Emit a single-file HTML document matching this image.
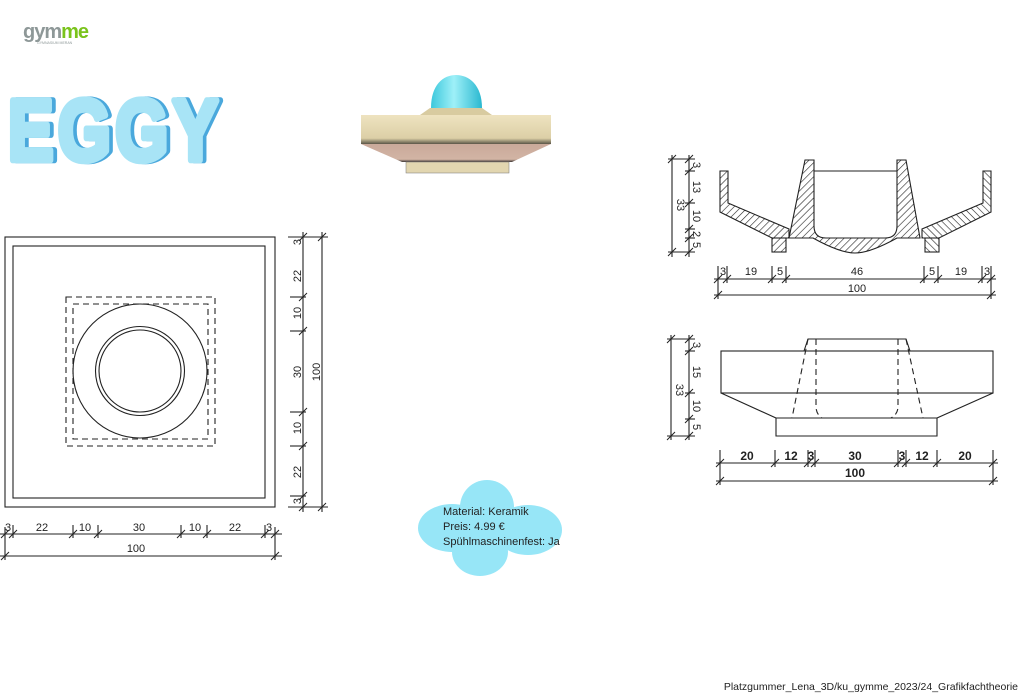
<!DOCTYPE html>
<html><head><meta charset="utf-8"><style>
html,body{margin:0;padding:0;background:#fff;}
body{width:1024px;height:694px;overflow:hidden;position:relative;font-family:"Liberation Sans",sans-serif;}
svg text{font-family:"Liberation Sans",sans-serif;}
</style></head><body>
<svg width="1024" height="694" viewBox="0 0 1024 694" xmlns="http://www.w3.org/2000/svg">
<defs>
<pattern id="h" patternUnits="userSpaceOnUse" width="5" height="5" patternTransform="rotate(45)">
<rect width="5" height="5" fill="#fff"/><line x1="0" y1="0" x2="0" y2="5" stroke="#222" stroke-width="1.2"/>
</pattern>
<linearGradient id="dome" x1="0" x2="1"><stop offset="0" stop-color="#3cc8dc"/><stop offset="0.45" stop-color="#9ef0f8"/><stop offset="1" stop-color="#2ab8d0"/></linearGradient>
<linearGradient id="tan" x1="0" y1="0" x2="0" y2="1"><stop offset="0" stop-color="#eee3c0"/><stop offset="0.8" stop-color="#dccfa6"/><stop offset="1" stop-color="#5a5648"/></linearGradient>
<linearGradient id="pink" x1="0" y1="0" x2="0" y2="1"><stop offset="0" stop-color="#c9a99a"/><stop offset="0.85" stop-color="#d2b4a4"/><stop offset="1" stop-color="#3a3432"/></linearGradient>
</defs>

<!-- logo -->
<text x="23" y="38" font-size="20" font-weight="bold" fill="#8e9898" letter-spacing="-1">gym<tspan fill="#7ac31c">me</tspan></text>
<text x="37" y="44" font-size="3.5" fill="#8e9898">GYMNASIUM MERAN</text>

<!-- EGGY -->
<g transform="translate(8,160) scale(0.74,0.94)">
<text x="5" y="0" font-size="92" font-weight="bold" fill="#4aa8dc" stroke="#4aa8dc" stroke-width="7" stroke-linejoin="round" letter-spacing="6">EGGY</text>
<text x="0" y="0" font-size="92" font-weight="bold" fill="#a8e4f6" stroke="#a8e4f6" stroke-width="7" stroke-linejoin="round" letter-spacing="6">EGGY</text>
</g>

<!-- 3D render -->
<path d="M431,108 C431,85 443,75 456,75 C469,75 482,85 482,108 Z" fill="url(#dome)"/>
<polygon points="430,108 482,108 492,115 420,115" fill="#d8cba0"/>
<rect x="361" y="115" width="190" height="29" fill="url(#tan)"/>
<polygon points="361,144 551,144 512,162 402,162" fill="url(#pink)"/>
<rect x="406" y="162" width="103" height="11" fill="#e2d6b0" stroke="#777" stroke-width="0.5"/>

<g fill="none" stroke="#222" stroke-width="1.1">
<rect x="5" y="237" width="270" height="270"/>
<rect x="13" y="246" width="252" height="252"/>
<rect x="66" y="297" width="149" height="149" stroke-dasharray="6,4"/>
<rect x="73" y="304" width="135" height="135" stroke-dasharray="6,4"/>
<circle cx="140" cy="371" r="67"/>
<circle cx="140" cy="371" r="44.5"/>
<circle cx="140" cy="371" r="41"/>
<line x1="303" y1="232" x2="303" y2="512"/>
<line x1="322" y1="232" x2="322" y2="512"/>
<line x1="288" y1="237" x2="328" y2="237"/>
<line x1="288" y1="507" x2="328" y2="507"/>
<line x1="290" y1="297" x2="306" y2="297"/><line x1="290" y1="331" x2="306" y2="331"/>
<line x1="290" y1="412" x2="306" y2="412"/><line x1="290" y1="446" x2="306" y2="446"/>
<line x1="290" y1="496" x2="306" y2="496"/>
<line x1="0" y1="534" x2="282" y2="534"/>
<line x1="0" y1="556" x2="282" y2="556"/>
<line x1="5" y1="527" x2="5" y2="560"/><line x1="275" y1="527" x2="275" y2="560"/>
<line x1="13" y1="525" x2="13" y2="538"/><line x1="73" y1="525" x2="73" y2="538"/>
<line x1="98" y1="525" x2="98" y2="538"/><line x1="181" y1="525" x2="181" y2="538"/>
<line x1="207" y1="525" x2="207" y2="538"/><line x1="265" y1="525" x2="265" y2="538"/>
</g>
<g stroke="#222" stroke-width="1">
<path d="M299,241l8,-8M299,301l8,-8M299,335l8,-8M299,416l8,-8M299,450l8,-8M299,500l8,-8M299,511l8,-8M318,241l8,-8M318,511l8,-8"/>
<path d="M1,538l8,-8M9,538l8,-8M69,538l8,-8M94,538l8,-8M177,538l8,-8M203,538l8,-8M261,538l8,-8M271,538l8,-8M1,560l8,-8M271,560l8,-8"/>
</g>
<g font-size="11" fill="#222" text-anchor="middle">
<text transform="translate(297,242) rotate(-90)" dy="4">3</text>
<text transform="translate(297,276) rotate(-90)" dy="4">22</text>
<text transform="translate(297,313) rotate(-90)" dy="4">10</text>
<text transform="translate(297,372) rotate(-90)" dy="4">30</text>
<text transform="translate(297,428) rotate(-90)" dy="4">10</text>
<text transform="translate(297,472) rotate(-90)" dy="4">22</text>
<text transform="translate(297,501) rotate(-90)" dy="4">3</text>
<text transform="translate(316,372) rotate(-90)" dy="4">100</text>
<text x="8" y="531">3</text><text x="42" y="531">22</text><text x="85" y="531">10</text>
<text x="139" y="531">30</text><text x="195" y="531">10</text><text x="235" y="531">22</text><text x="269" y="531">3</text>
<text x="136" y="552">100</text>
</g>

<!-- section view -->
<g stroke="#222" stroke-width="1.1">
<g id="half">
<polygon points="720,171 728,171 728,203 789,229 789,238 772,238 720,212" fill="url(#h)"/>
<rect x="772" y="238" width="14" height="14" fill="url(#h)"/>
</g>
<use href="#half" transform="translate(1711,0) scale(-1,1)"/>
<path d="M805,160 L814,160 L814,226 Q814,238 826,238 L885,238 Q897,238 897,226 L897,160 L906,160 L920,238 L897,238 Q870,253 855,253 Q840,253 813,238 L789,238 Z" fill="url(#h)"/>
<line x1="814" y1="171" x2="897" y2="171" fill="none"/>
</g>
<g fill="none" stroke="#222" stroke-width="1.1">
<line x1="689" y1="155" x2="689" y2="257"/>
<line x1="672" y1="155" x2="672" y2="257"/>
<line x1="668" y1="159" x2="695" y2="159"/><line x1="668" y1="252" x2="695" y2="252"/>
<line x1="685" y1="171" x2="695" y2="171"/><line x1="685" y1="203" x2="695" y2="203"/>
<line x1="685" y1="229" x2="695" y2="229"/><line x1="685" y1="238" x2="695" y2="238"/>
<line x1="714" y1="279" x2="996" y2="279"/><line x1="714" y1="295" x2="996" y2="295"/>
<line x1="718" y1="266" x2="718" y2="299"/><line x1="991" y1="266" x2="991" y2="299"/>
<line x1="727" y1="266" x2="727" y2="283"/><line x1="772" y1="266" x2="772" y2="283"/>
<line x1="786" y1="266" x2="786" y2="283"/><line x1="924" y1="266" x2="924" y2="283"/>
<line x1="938" y1="266" x2="938" y2="283"/><line x1="982" y1="266" x2="982" y2="283"/>
</g>
<g stroke="#222" stroke-width="1">
<path d="M668,163l8,-8M685,163l8,-8M685,175l8,-8M685,207l8,-8M685,233l8,-8M685,242l8,-8M685,256l8,-8M668,256l8,-8"/>
<path d="M714,283l8,-8M723,283l8,-8M768,283l8,-8M782,283l8,-8M920,283l8,-8M934,283l8,-8M978,283l8,-8M987,283l8,-8M714,299l8,-8M987,299l8,-8"/>
</g>
<g font-size="11" fill="#222" text-anchor="middle">
<text transform="translate(697,165) rotate(90)" dy="4">3</text>
<text transform="translate(697,187) rotate(90)" dy="4">13</text>
<text transform="translate(697,216) rotate(90)" dy="4">10</text>
<text transform="translate(697,234) rotate(90)" dy="4">2</text>
<text transform="translate(697,245) rotate(90)" dy="4">5</text>
<text transform="translate(681,205) rotate(90)" dy="4">33</text>
<text x="723" y="275">3</text><text x="751" y="275">19</text><text x="780" y="275">5</text>
<text x="857" y="275">46</text><text x="932" y="275">5</text><text x="961" y="275">19</text><text x="987" y="275">3</text>
<text x="857" y="292">100</text>
</g>

<!-- elevation -->
<g fill="none" stroke="#222" stroke-width="1.1">
<rect x="721" y="351" width="272" height="42"/>
<polyline points="721,393 776,418 776,436 937,436 937,418 993,393"/>
<line x1="776" y1="418" x2="937" y2="418"/>
<polyline points="804,351 808,339 906,339 910,351"/>
<g stroke-dasharray="6,4">
<line x1="808" y1="339" x2="792" y2="418"/>
<line x1="906" y1="339" x2="923" y2="418"/>
<path d="M816,339 L816,408 Q817,415 822,418"/>
<path d="M898,339 L898,408 Q897,415 891,418"/>
</g>
<line x1="689" y1="335" x2="689" y2="440"/>
<line x1="671" y1="335" x2="671" y2="440"/>
<line x1="667" y1="339" x2="695" y2="339"/><line x1="667" y1="436" x2="695" y2="436"/>
<line x1="685" y1="351" x2="695" y2="351"/><line x1="685" y1="393" x2="695" y2="393"/><line x1="685" y1="419" x2="695" y2="419"/>
<line x1="716" y1="463" x2="998" y2="463"/><line x1="716" y1="481" x2="998" y2="481"/>
<line x1="720" y1="450" x2="720" y2="485"/><line x1="993" y1="450" x2="993" y2="485"/>
<line x1="775" y1="450" x2="775" y2="467"/><line x1="808" y1="450" x2="808" y2="467"/>
<line x1="815" y1="450" x2="815" y2="467"/><line x1="898" y1="450" x2="898" y2="467"/>
<line x1="906" y1="450" x2="906" y2="467"/><line x1="937" y1="450" x2="937" y2="467"/>
</g>
<g stroke="#222" stroke-width="1">
<path d="M667,343l8,-8M685,343l8,-8M685,355l8,-8M685,397l8,-8M685,423l8,-8M685,440l8,-8M667,440l8,-8"/>
<path d="M716,467l8,-8M771,467l8,-8M804,467l8,-8M811,467l8,-8M894,467l8,-8M902,467l8,-8M933,467l8,-8M989,467l8,-8M716,485l8,-8M989,485l8,-8"/>
</g>
<g font-size="11" fill="#222" text-anchor="middle">
<text transform="translate(697,345) rotate(90)" dy="4">3</text>
<text transform="translate(697,372) rotate(90)" dy="4">15</text>
<text transform="translate(697,406) rotate(90)" dy="4">10</text>
<text transform="translate(697,427) rotate(90)" dy="4">5</text>
<text transform="translate(680,390) rotate(90)" dy="4">33</text>
</g>
<g font-size="12" font-weight="bold" fill="#222" text-anchor="middle">
<text x="747" y="460">20</text><text x="791" y="460">12</text><text x="811" y="460">3</text>
<text x="855" y="460">30</text><text x="902" y="460">3</text><text x="922" y="460">12</text><text x="965" y="460">20</text>
<text x="855" y="477">100</text>
</g>

<!-- cloud -->
<g fill="#97e6f7">
<circle cx="487" cy="507" r="27"/>
<ellipse cx="452" cy="528" rx="34" ry="24"/>
<ellipse cx="528" cy="530" rx="34" ry="25"/>
<ellipse cx="480" cy="552" rx="28" ry="24"/>
<rect x="450" y="510" width="80" height="40"/>
</g>
<g font-size="11" fill="#222">
<text x="443" y="515">Material: Keramik</text>
<text x="443" y="530">Preis: 4.99 €</text>
<text x="443" y="545">Spühlmaschinenfest: Ja</text>
</g>

<text x="1018" y="690" font-size="10.5" fill="#222" text-anchor="end">Platzgummer_Lena_3D/ku_gymme_2023/24_Grafikfachtheorie</text>
</svg>
</body></html>
